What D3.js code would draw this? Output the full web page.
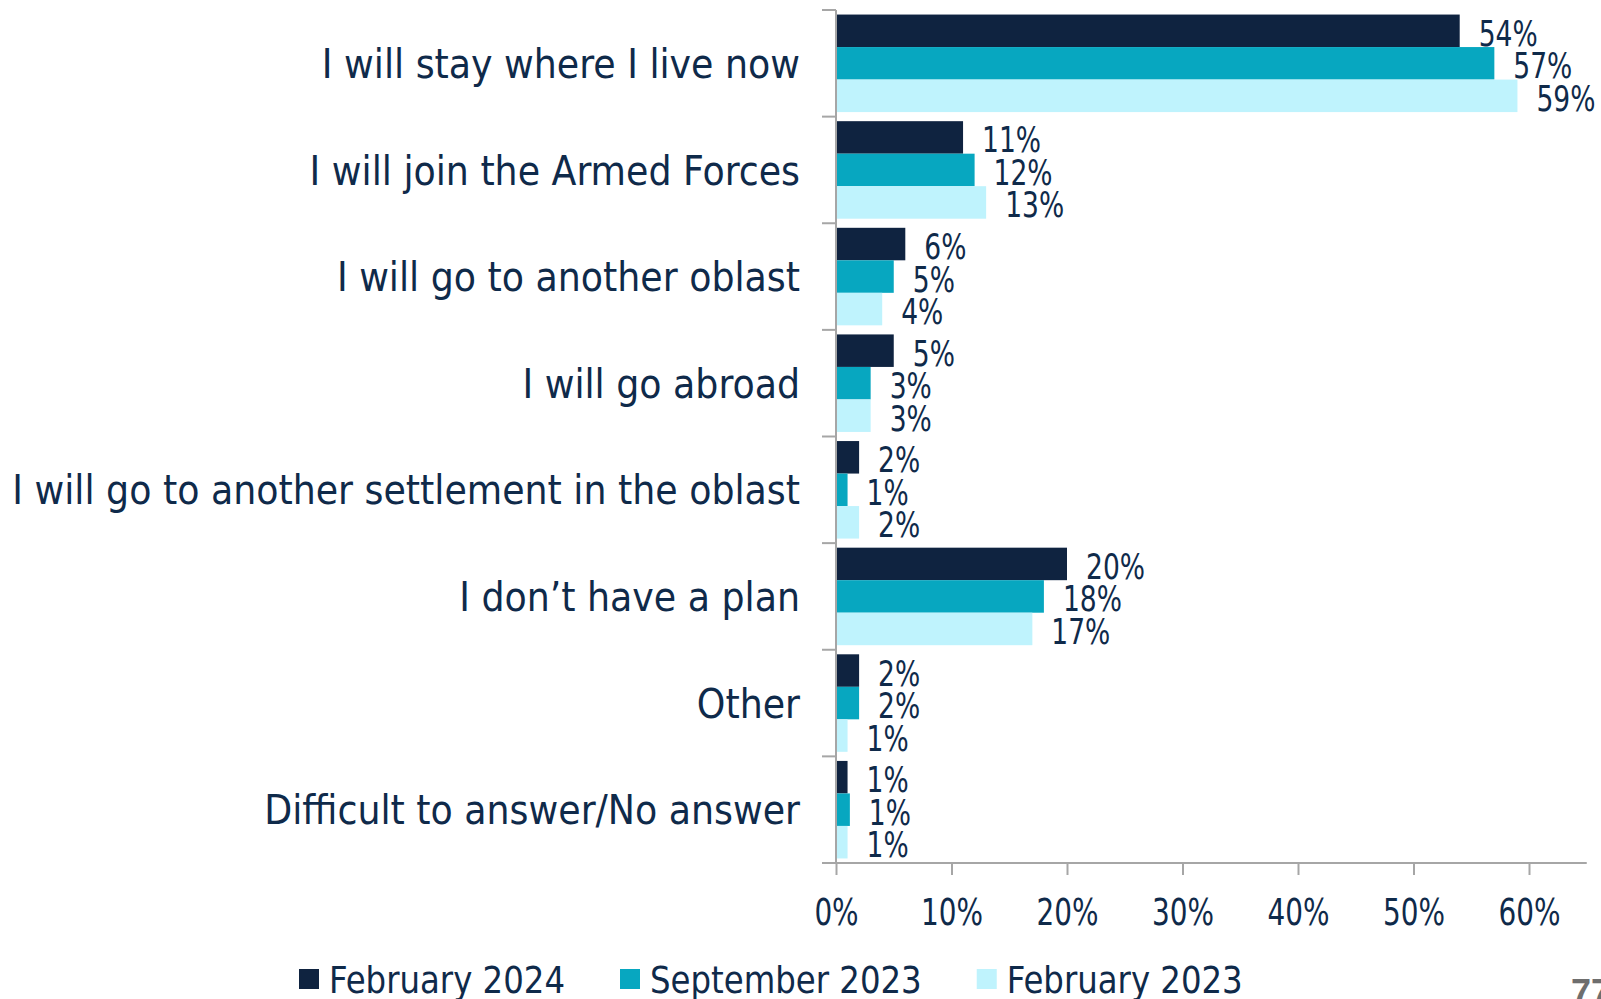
<!DOCTYPE html>
<html>
<head>
<meta charset="utf-8">
<script src="https://cdn.jsdelivr.net/npm/d3@7"></script>
<style>
  html, body { margin: 0; padding: 0; background: #ffffff; }
  svg { display: block; }
  text { font-family: "DejaVu Sans Condensed", "DejaVu Sans", sans-serif; font-stretch: condensed; }
</style>
</head>
<body>
<svg id="chart" width="1601" height="999"></svg>
<script>
// ---------------- data ----------------
const categories = [
  "I will stay where I live now",
  "I will join the Armed Forces",
  "I will go to another oblast",
  "I will go abroad",
  "I will go to another settlement in the oblast",
  "I don\u2019t have a plan",
  "Other",
  "Difficult to answer/No answer"
];
const seriesNames = ["February 2024", "September 2023", "February 2023"];
const feb2024 = [54, 11, 6, 5, 2, 20, 2, 1];
const sep2023 = [57, 12, 5, 3, 1, 18, 2, 1.2];
const feb2023 = [59, 13, 4, 3, 2, 17, 1, 1];
const xTicks = [0, 10, 20, 30, 40, 50, 60];
const pageNumber = "77";

// ---------------- styling ----------------
const colors = ["#0f2340", "#07a7c0", "#bff3fd"];
const textColor = "#0f2a4a";
const axisColor = "#a6a6a6";

const svg = d3.select("#chart");
const seriesValues = [feb2024, sep2023, feb2023];

const x = d3.scaleLinear().domain([0, 65]).range([836, 836 + 65 * 11.55]);
const y0 = d3.scaleBand().domain(categories).range([10, 863]).padding(0);
const y1 = d3.scaleBand().domain(seriesNames).range([0, y0.bandwidth()]).paddingInner(0).paddingOuter(0.14);

// measure helper to condense text horizontally
function measure(str, size) {
  const t = svg.append("text").attr("font-size", size).text(str);
  const w = t.node().getComputedTextLength();
  t.remove();
  return w;
}
const catSize = 40, valSize = 36, tickSize = 38, legSize = 37;
const sCat = 788 / measure("I will go to another settlement in the oblast", catSize);
const sVal = 59 / measure("54%", valSize);
const sTick = 62 / measure("60%", tickSize);
const sLeg = 236 / measure("February 2024", legSize);

// ---------------- bars ----------------
const rows = categories.map((c, i) => ({ cat: c, vals: seriesValues.map((s, k) => ({ name: seriesNames[k], v: s[i], k })) }));

const g = svg.append("g");
const catG = g.selectAll("g.cat").data(rows).join("g")
  .attr("class", "cat")
  .attr("transform", d => `translate(0,${y0(d.cat)})`);

catG.selectAll("rect").data(d => d.vals).join("rect")
  .attr("x", x(0))
  .attr("y", d => y1(d.name))
  .attr("width", d => x(d.v) - x(0))
  .attr("height", y1.bandwidth())
  .attr("fill", d => colors[d.k]);

catG.selectAll("text.val").data(d => d.vals).join("text")
  .attr("class", "val")
  .attr("font-size", valSize)
  .attr("fill", textColor)
  .attr("transform", d => `translate(${x(d.v) + 19},${y1(d.name) + y1.bandwidth() / 2 + 15}) scale(${sVal},1)`)
  .text(d => Math.round(d.v) + "%");

// ---------------- left axis ----------------
const axisG = svg.append("g");
axisG.append("line")
  .attr("x1", x(0)).attr("x2", x(0))
  .attr("y1", y0.range()[0]).attr("y2", y0.range()[1])
  .attr("stroke", axisColor).attr("stroke-width", 2);
const bounds = categories.map(c => y0(c)).concat([y0.range()[1]]);
axisG.selectAll("line.ctick").data(bounds).join("line")
  .attr("class", "ctick")
  .attr("x1", x(0) - 14).attr("x2", x(0))
  .attr("y1", d => d).attr("y2", d => d)
  .attr("stroke", axisColor).attr("stroke-width", 2);

axisG.selectAll("text.cat").data(categories).join("text")
  .attr("class", "cat")
  .attr("font-size", catSize)
  .attr("fill", textColor)
  .attr("text-anchor", "end")
  .attr("transform", d => `translate(${x(0) - 36},${y0(d) + y0.bandwidth() / 2 + 14.6}) scale(${sCat},1)`)
  .text(d => d);

// ---------------- bottom axis ----------------
const xAxis = d3.axisBottom(x).tickValues(xTicks).tickSize(12).tickFormat(d => d + "%");
const xg = svg.append("g").attr("transform", `translate(0,${y0.range()[1]})`).call(xAxis);
xg.select(".domain").attr("stroke", axisColor).attr("stroke-width", 2)
  .attr("d", `M${x(0) - 14},0H${x(65)}`);
xg.selectAll(".tick line").attr("stroke", axisColor).attr("stroke-width", 2);
xg.selectAll(".tick text")
  .attr("font-size", tickSize)
  .attr("fill", textColor)
  .attr("font-family", null)
  .attr("y", null).attr("dy", null)
  .attr("text-anchor", "middle")
  .attr("transform", `translate(0,62) scale(${sTick},1)`);

// ---------------- legend ----------------
const legG = svg.append("g");
let lx = 299;
seriesNames.forEach((name, k) => {
  legG.append("rect").attr("x", lx).attr("y", 969).attr("width", 20).attr("height", 20).attr("fill", colors[k]);
  legG.append("text")
    .attr("font-size", legSize)
    .attr("fill", textColor)
    .attr("transform", `translate(${lx + 30},993) scale(${sLeg},1)`)
    .text(name);
  lx += 30 + measure(name, legSize) * sLeg + 55;
});

// page number
svg.append("text")
  .attr("x", 1571).attr("y", 1005)
  .attr("font-size", 36)
  .attr("font-weight", "bold")
  .attr("fill", "#6e6e6e")
  .style("font-family", "'Liberation Sans', Arial, sans-serif")
  .text(pageNumber);
</script>
</body>
</html>
